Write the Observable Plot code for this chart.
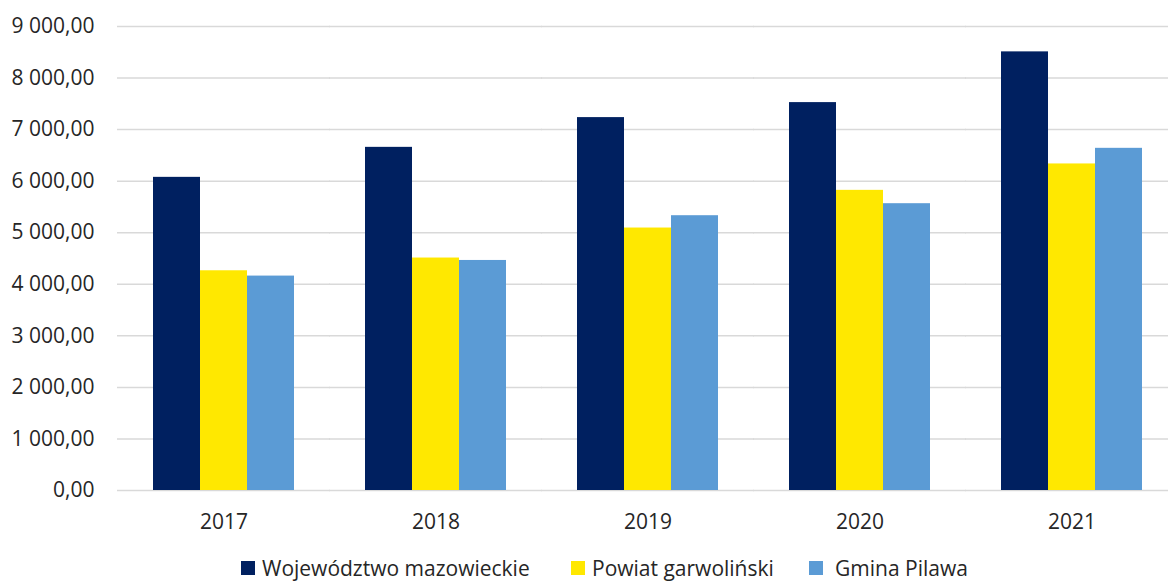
<!DOCTYPE html>
<html>
<head>
<meta charset="utf-8">
<script src="https://cdn.jsdelivr.net/npm/d3@7"></script>
<script src="https://cdn.jsdelivr.net/npm/@observablehq/plot@0.6"></script>
<style>
  html, body { margin: 0; padding: 0; background: #fff; overflow: hidden; }
  body { width: 1168px; height: 583px; font-family: "Open Sans", sans-serif; position: relative; }
  #legend { position: absolute; left: 0; top: 0; width: 1168px; height: 583px; pointer-events: none; }
  #legend .item { position: absolute; display: flex; align-items: center; font-size: 21px; line-height: 28px; color: #262626; white-space: nowrap; }
  #legend .sw { width: 14px; height: 14px; }
</style>
</head>
<body>
<div id="chart"></div>
<div id="legend"></div>
<script>
const years = ["2017", "2018", "2019", "2020", "2021"];
const seriesNames = ["Województwo mazowieckie", "Powiat garwoliński", "Gmina Pilawa"];
const mazowieckie = [6074, 6656, 7233, 7524, 8508];
const garwolinski = [4262, 4509, 5091, 5822, 6334];
const pilawa = [4159, 4462, 5330, 5563, 6637];
const seriesColors = ["#002060", "#FFE800", "#5B9BD5"];
const yTicks = [0, 1000, 2000, 3000, 4000, 5000, 6000, 7000, 8000, 9000];

const seriesValues = [mazowieckie, garwolinski, pilawa];
const data = [];
years.forEach((y, i) => {
  seriesNames.forEach((s, j) => data.push({year: y, series: s, value: seriesValues[j][i]}));
});

const fmt = v => d3.format(",.2f")(v).replace(/,/g, " ").replace(".", ",");

const chart = Plot.plot({
  width: 1168,
  height: 550,
  marginLeft: 117,
  marginRight: -10,
  marginTop: 26,
  marginBottom: 60,
  style: {fontFamily: "Open Sans, sans-serif", fontSize: "21px", color: "#262626", background: "#fff", overflow: "visible"},
  fx: {domain: years, paddingInner: 0.335, paddingOuter: 0.1675, label: null},
  x: {domain: seriesNames, axis: null, padding: 0},
  y: {domain: [0, 9000], label: null},
  color: {domain: seriesNames, range: seriesColors},
  marks: [
    Plot.ruleY(yTicks, {stroke: "#d9d9d9", strokeWidth: 1.5, insetLeft: -36, insetRight: -36}),
    Plot.barY(data, {fx: "year", x: "series", y: "value", fill: "series"}),
    Plot.axisY({ticks: yTicks, tickFormat: fmt, tickSize: 0, tickPadding: 59, fontSize: 21, label: null}),
    Plot.axisFx({anchor: "bottom", tickSize: 0, tickPadding: 23.5, fontSize: 21, label: null})
  ]
});
document.getElementById("chart").appendChild(chart);

const legend = document.getElementById("legend");
const lefts = [241, 571, 809];
const textGaps = [7, 7, 12];
seriesNames.forEach((s, j) => {
  const it = document.createElement("div");
  it.className = "item";
  it.style.left = lefts[j] + "px";
  it.style.top = "554px";
  const sw = document.createElement("div");
  sw.className = "sw";
  sw.style.background = seriesColors[j];
  sw.style.marginRight = textGaps[j] + "px";
  const t = document.createElement("span");
  t.textContent = s;
  it.appendChild(sw); it.appendChild(t);
  legend.appendChild(it);
});
</script>
</body>
</html>
